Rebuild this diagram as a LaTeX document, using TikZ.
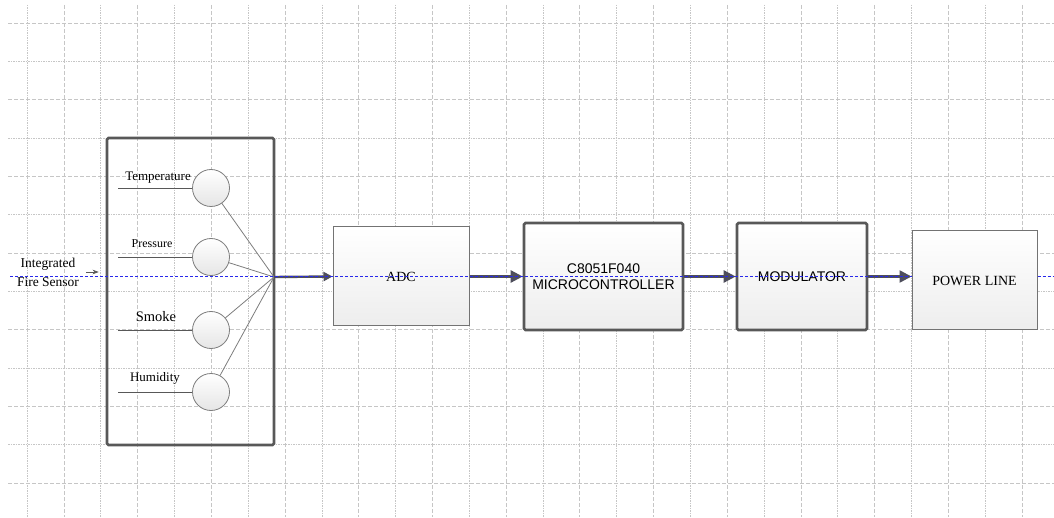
\documentclass[tikz,border=0pt]{standalone}
\usepackage{fontspec}
\setmainfont{Liberation Serif}
\setsansfont{Liberation Sans}
\definecolor{edgegray}{RGB}{88,88,88}
\definecolor{boxgray}{RGB}{115,115,115}
\definecolor{gridgray}{RGB}{198,198,198}
\definecolor{linkgray}{RGB}{125,125,125}
\definecolor{flowgray}{RGB}{78,78,92}
\definecolor{busblue}{RGB}{40,40,235}
\usetikzlibrary{arrows.meta,positioning,calc}

\begin{document}
\begin{tikzpicture}[x=1pt, y=-1pt,
    blockthin/.style={rectangle, draw=boxgray, line width=1pt, inner sep=0pt,
                      top color=white, bottom color=gray!14},
    blockthick/.style={rectangle, draw=edgegray, line width=2.6pt, inner sep=0pt,
                       rounded corners=1.5pt, top color=white, bottom color=gray!14},
    sensorball/.style={circle, draw=linkgray, line width=0.8pt, minimum size=37pt,
                       inner sep=0pt, top color=white, bottom color=gray!20},
    gridmajor/.style={gridgray, line width=0.6pt, dash pattern=on 4pt off 2pt},
    gridminor/.style={gridgray, line width=0.6pt, dash pattern=on 1.5pt off 1pt},
    flow/.style={flowgray, line width=2.4pt, -{Triangle[length=12pt,width=12pt]}},
    >=Stealth
  ]
    \useasboundingbox (0,0) rectangle (1054,518);

    % Background grid
    \foreach \k in {0,2,...,26}
      \draw[gridminor] (27+36.85*\k,5) -- (27+36.85*\k,517);
    \foreach \k in {1,3,...,27}
      \draw[gridmajor] (27+36.85*\k,5) -- (27+36.85*\k,517);
    \foreach \k in {0,2,...,12}
      \draw[gridmajor] (8,23+38.33*\k) -- (1054,23+38.33*\k);
    \foreach \k in {1,3,...,11}
      \draw[gridminor] (8,23+38.33*\k) -- (1054,23+38.33*\k);

    % Sensor housing
    \node[rectangle, draw=edgegray, line width=2.6pt, rounded corners=1.5pt,
          minimum width=167pt, minimum height=307pt] (sensor) at (190.5,291.5) {};
    \coordinate (hub) at (274,277);

    % Sensing elements
    \node[sensorball] (temp)  at (211,188) {};
    \node[sensorball] (pres)  at (211,257) {};
    \node[sensorball] (smoke) at (211,330) {};
    \node[sensorball] (humid) at (211,392) {};

    \draw[edgegray, line width=0.8pt] (temp.west)  -- ++(-74,0);
    \draw[edgegray, line width=0.8pt] (pres.west)  -- ++(-74,0);
    \draw[edgegray, line width=0.8pt] (smoke.west) -- ++(-74,0);
    \draw[edgegray, line width=0.8pt] (humid.west) -- ++(-74,0);

    \node[font=\fontsize{13}{15}\selectfont, inner sep=0pt] (templbl)  at (158,178) {Temperature};
    \node[font=\fontsize{12}{14}\selectfont, inner sep=0pt] (preslbl)  at (152,244) {Pressure};
    \node[font=\fontsize{14.5}{16}\selectfont, inner sep=0pt] (smokelbl) at (156,317) {Smoke};
    \node[font=\fontsize{13}{15}\selectfont, inner sep=0pt] (humidlbl) at (155,378) {Humidity};

    \draw[linkgray, line width=0.8pt] (temp)  -- (hub);
    \draw[linkgray, line width=0.8pt] (pres)  -- (hub);
    \draw[linkgray, line width=0.8pt] (smoke) -- (hub);
    \draw[linkgray, line width=0.8pt] (humid) -- (hub);

    % Input label
    \node[font=\fontsize{13.5}{19}\selectfont, align=center, inner sep=0pt] (ifs) at (48,272)
      {Integrated\\Fire Sensor};
    \draw[edgegray, line width=0.7pt, ->, shorten <=7pt, shorten >=7pt]
      (ifs.east) -- (ifs.east -| sensor.west);

    % Processing chain
    \node[blockthin, minimum width=136pt, minimum height=99pt,
          font=\fontsize{14}{16}\selectfont] (adc) at (401,276.5) {ADC};
    \node[blockthick, minimum width=159pt, minimum height=107pt, align=center,
          font=\fontsize{14}{16}\selectfont\sffamily] (mcu) at (603.5,276.5)
      {C8051F040\\MICROCONTROLLER};
    \node[blockthick, minimum width=130pt, minimum height=107pt,
          font=\fontsize{14}{16}\selectfont\sffamily] (mod) at (802,276.5) {MODULATOR};
    \node[blockthin, minimum width=125pt, minimum height=99pt,
          font=\fontsize{14}{16}\selectfont] (pwr) at (974.5,280.5) {POWER LINE};

    \draw[flowgray, line width=2.4pt, -{Triangle[length=9pt,width=9pt]}] (hub) -- (adc.west);
    \draw[flow] (adc.east) -- (mcu.west);
    \draw[flow] (mcu.east) -- (mod.west);
    \draw[flow] (mod.east) -- (mod.east -| pwr.west);

    % Signal bus
    \coordinate (busL) at (10,277);
    \coordinate (busR) at (1054,277);
    \draw[busblue, line width=1pt, dash pattern=on 3pt off 2pt] (busL) -- (busL -| pwr.west);
    \draw[busblue, line width=1pt, dash pattern=on 3pt off 2pt] (busR -| pwr.east) -- (busR);
  \end{tikzpicture}
\end{document}
